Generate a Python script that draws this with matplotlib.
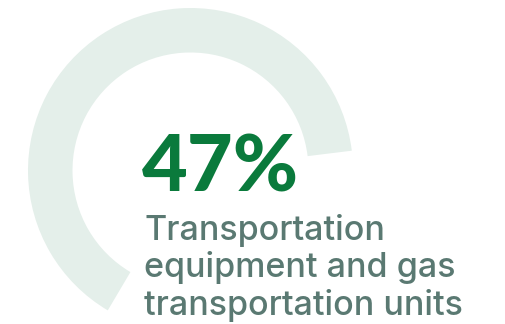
import matplotlib
matplotlib.use("Agg")
import matplotlib.pyplot as plt
from matplotlib.patches import Wedge

# share value and its caption
share_label = "47%"
caption_lines = ["Transportation", "equipment and gas", "transportation units"]

# decorative ring track (degrees, counter-clockwise)
ring_start = 7.0
ring_end = 239.4

W, H = 505, 324
fig = plt.figure(figsize=(W / 100, H / 100), dpi=100)
ax = fig.add_axes([0, 0, 1, 1])
ax.set_xlim(0, W)
ax.set_ylim(0, H)
ax.set_aspect("equal")
ax.axis("off")

ring = Wedge((190.5, 153.5), 162.5, ring_start, ring_end, width=44.5,
             facecolor="#e4efea", edgecolor="none")
ax.add_patch(ring)

ax.text(142, 132, share_label, fontsize=57, fontweight="black",
        family=["Lato", "DejaVu Sans"], color="#0a7a3c", va="baseline", ha="left")

baselines = [84, 46.5, 9]
for line, yb in zip(caption_lines, baselines):
    ax.text(144, yb, line, fontsize=24.5, fontweight="medium",
            family=["Inter", "DejaVu Sans"], color="#5a7972", va="baseline", ha="left")

fig.savefig("out.png", dpi=100)
